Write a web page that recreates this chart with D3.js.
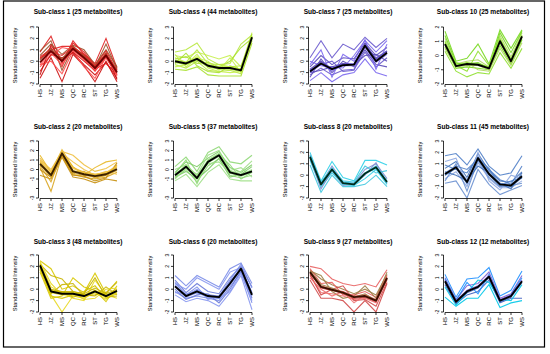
<!DOCTYPE html>
<html>
<head>
<meta charset="utf-8">
<script src="https://cdn.jsdelivr.net/npm/d3@7"></script>
<style>
  body { margin: 0; background: #fff; }
  svg { display: block; font-family: "Liberation Sans", Arial, sans-serif; }
  text { fill: #000; }
</style>
</head>
<body>
<script>
// categories on the x axis
const cats = ["HS", "JZ", "MS", "QC", "RC", "ST", "TG", "WS"];

// panel titles (numbered 1..12, laid out column by column)
const titles = [
  "Sub-class 1 (25 metabolites)", "Sub-class 2 (20 metabolites)", "Sub-class 3 (48 metabolites)",
  "Sub-class 4 (44 metabolites)", "Sub-class 5 (37 metabolites)", "Sub-class 6 (20 metabolites)",
  "Sub-class 7 (25 metabolites)", "Sub-class 8 (20 metabolites)", "Sub-class 9 (27 metabolites)",
  "Sub-class 10 (25 metabolites)", "Sub-class 11 (45 metabolites)", "Sub-class 12 (12 metabolites)"
];

// y range of each panel
const yRanges = [[-2, 3], [-3, 3], [-2, 3], [-2, 3], [-3, 3], [-2, 3],
                 [-2, 3], [-2, 3], [-2, 3], [-2, 2], [-2, 3], [-2, 3]];

// mean profile (thick line) of each sub-class
const means = [
  [-0.1, 0.9, 0.0, 1.1, 0.3, -0.6, 0.5, -1.0],
  [0.6, -0.6, 1.7, -0.2, -0.5, -0.7, -0.5, 0.05],
  [2.1, -0.2, -0.4, -0.4, -0.6, -0.2, -0.6, -0.15],
  [0.0, -0.2, 0.2, -0.4, -0.6, -0.6, -0.8, 2.1],
  [-0.6, 0.3, -0.9, 0.8, 1.5, -0.3, -0.6, -0.2],
  [0.25, -0.6, -0.2, -0.6, -0.7, 0.5, 1.8, -0.5],
  [-0.9, -0.2, -0.7, -0.35, -0.3, 1.35, 0.0, 0.75],
  [1.6, -0.8, 0.5, -0.7, -0.8, 0.15, 0.7, -0.6],
  [1.5, 0.2, -0.05, -0.3, -0.7, -0.6, -1.0, 1.0],
  [0.8, -0.75, -0.6, -0.65, -0.9, 1.0, -0.4, 1.35],
  [0.1, 0.7, -0.6, 1.5, 0.1, -0.8, -0.9, -0.1],
  [0.7, -1.1, -0.2, 0.2, 1.1, -1.0, -0.6, 0.7]
];

// individual metabolite profiles (the thin lines)
const sc1 = [
  [0.8, 2.2, -0.2, 1.8, 0.6, -0.2, 2.0, -0.6],
  [-1.5, 0.3, -1.8, 0.6, -0.4, -1.8, 0.0, -1.8],
  [0.5, 1.5, 0.6, 1.4, 1.0, -0.3, 1.0, -0.5],
  [-0.5, 0.5, 1.2, 1.0, 0.2, -0.9, 0.3, -1.2],
  [0.2, 1.2, -0.5, 1.6, 0.8, -0.4, 0.9, -0.8],
  [-0.9, 0.6, 0.3, 0.7, -0.3, -1.2, -0.1, -1.5],
  [0.9, 1.8, -0.8, 1.2, 0.5, -0.5, 1.5, -0.7],
  [-0.3, 0.0, -1.1, 0.9, -0.5, -1.5, 0.4, -1.3],
  [0.4, 1.0, 1.3, 1.3, 0.4, -0.7, -0.2, -1.1],
  [-1.2, 1.4, 0.1, 0.8, 0.0, -0.8, 0.7, -1.6],
  [0.1, 1.1, 0.2, 1.3, 0.5, -0.5, 0.7, -0.9],
  [-0.3, 0.7, -0.3, 1.0, 0.1, -0.8, 0.3, -1.2],
  [0.3, 0.8, 0.5, 1.2, 0.6, -0.4, 0.6, -0.8]
];
const sc2 = [
  [1.5, -0.3, 2.1, 0.2, -0.3, -0.5, -0.4, 0.3],
  [0.2, -2.3, 1.5, -0.5, -0.8, -1.0, -0.8, -0.3],
  [1.0, 0.0, 1.9, 1.5, 0.5, -0.2, 0.1, 0.8],
  [-0.6, -1.0, 1.3, -0.8, -1.0, -1.4, -1.0, -1.2],
  [0.8, -0.5, 1.8, 0.3, -0.6, 0.2, 0.8, 1.0],
  [0.4, -1.3, 1.6, -0.3, -0.2, -0.9, -0.6, 0.5],
  [1.2, -0.2, 1.7, 0.8, 0.0, -0.6, -0.2, -0.5],
  [0.0, -0.8, 1.4, -0.6, -0.7, -1.2, -0.9, 0.7],
  [0.7, -0.5, 1.8, -0.1, -0.4, -0.6, -0.4, 0.2],
  [0.5, -0.8, 1.6, -0.4, -0.6, -0.8, -0.6, -0.1],
  [0.9, -0.3, 1.9, 0.1, -0.3, -0.5, -0.3, 0.4]
];
const sc3 = [
  [2.5, 1.8, 0.0, 0.3, -0.3, 1.4, -0.4, 0.7],
  [1.8, -0.5, -2.0, -0.6, -0.8, -0.3, -0.9, -0.2],
  [2.2, 1.2, 0.9, -0.2, -0.5, -0.6, 0.2, -0.5],
  [1.5, -0.8, -0.6, 1.0, 0.2, -0.1, -1.1, 0.3],
  [2.3, 0.2, -0.3, -0.8, -1.0, 0.8, -0.5, -0.8],
  [2.0, -0.4, 0.4, 0.5, -0.6, -0.5, -0.3, 0.6],
  [1.7, -0.6, -0.8, -0.5, -0.2, 0.3, -0.8, -0.4],
  [2.4, 0.5, -0.5, -0.3, -0.9, -0.8, 0.0, 0.1],
  [1.9, -0.2, -0.2, -0.7, -0.4, 1.0, -0.7, -0.6],
  [2.1, -0.1, -0.3, -0.3, -0.5, -0.1, -0.5, -0.1],
  [2.0, -0.3, -0.5, -0.5, -0.7, -0.3, -0.7, -0.3],
  [2.2, 0.0, -0.2, -0.2, -0.4, 0.1, -0.4, 0.0]
];
const sc4 = [
  [0.8, 1.0, 1.6, 0.2, -0.3, -0.2, 1.5, 2.3],
  [-0.7, -0.8, -0.5, -1.2, -1.3, -1.3, -1.3, 1.6],
  [0.5, 0.3, 0.8, 0.5, 0.2, 0.5, -0.5, 2.5],
  [-0.3, -0.6, 0.0, -0.8, -0.9, -0.8, -1.1, 1.9],
  [0.2, 0.4, -0.2, -0.1, -0.5, 0.0, 1.2, 2.0],
  [-0.5, -0.3, 0.6, -0.6, -0.9, -1.0, -0.9, 2.2],
  [0.3, -0.1, 1.0, -0.2, -0.3, -0.5, -0.4, 1.8],
  [-0.2, 0.7, -0.4, -0.9, -1.0, -0.4, -0.7, 2.4],
  [0.6, -0.5, 0.3, 0.0, -0.8, 0.3, -1.0, 2.1],
  [0.1, -0.1, 0.3, -0.3, -0.5, -0.5, -0.7, 2.2],
  [-0.1, -0.3, 0.1, -0.5, -0.7, -0.7, -0.9, 2.0],
  [0.0, -0.2, 0.4, -0.4, -0.6, -0.5, -0.8, 2.1]
];
const sc5 = [
  [0.3, 1.3, -0.2, 1.8, 2.4, 0.8, 0.6, 1.5],
  [-1.2, -0.5, -1.8, -0.3, 0.5, -1.0, -1.2, -1.2],
  [-0.3, 0.8, 0.3, 1.2, 1.9, 0.2, -0.3, 0.5],
  [-0.9, 0.0, -1.3, 0.4, 1.1, -0.6, -0.9, -0.6],
  [0.0, 0.5, -0.6, 1.5, 2.0, -0.1, 0.2, -0.8],
  [-0.8, -0.2, -1.0, 0.0, 1.2, -0.8, -0.5, 0.3],
  [-0.4, 1.0, -1.5, 1.0, 1.6, 0.5, -1.0, -0.3],
  [-1.0, 0.2, -0.5, 0.6, 0.8, -0.4, -0.2, 0.9],
  [-0.5, 0.4, -0.8, 0.9, 1.6, -0.2, -0.5, -0.1],
  [-0.7, 0.2, -1.0, 0.7, 1.4, -0.4, -0.7, -0.3],
  [-0.6, 0.5, -0.7, 1.0, 1.7, -0.1, -0.6, 0.0]
];
const sc6 = [
  [1.2, 0.3, 1.2, 0.7, 0.2, 1.8, 2.3, 0.5],
  [-0.5, -1.1, -0.8, -1.0, -1.5, -0.3, 1.2, -1.8],
  [0.8, -0.3, 0.5, -0.2, -0.4, 1.0, 2.0, 0.2],
  [-0.2, -0.8, -0.6, -0.8, -1.0, 0.2, 1.5, -1.2],
  [0.5, 0.0, 1.0, 0.5, 0.0, 1.5, 1.9, -0.3],
  [0.0, -0.9, -0.5, -0.4, -1.2, 0.0, 1.6, -0.8],
  [0.6, -0.5, 0.2, -0.9, -0.6, 0.8, 2.2, 0.1],
  [-0.3, -0.4, -0.3, -0.6, -0.8, -0.2, 1.4, -1.0],
  [0.3, -0.5, -0.1, -0.5, -0.6, 0.6, 1.9, -0.4],
  [0.2, -0.7, -0.3, -0.7, -0.8, 0.4, 1.7, -0.6],
  [0.4, -0.6, 0.0, -0.6, -0.7, 0.7, 1.8, -0.3]
];
const sc7 = [
  [0.3, 1.8, 0.3, 1.5, 1.0, 2.1, 1.2, 2.0],
  [-1.7, -1.0, -1.8, -1.2, -1.0, 0.2, -1.0, -1.3],
  [-0.5, 0.5, -0.3, 0.3, 0.2, 1.6, 0.5, 1.2],
  [-1.2, -0.6, -1.2, -0.8, -0.7, 0.8, -0.5, 0.3],
  [0.0, -0.4, -0.5, -0.6, 0.5, 1.8, 0.8, 1.8],
  [-1.4, 0.2, -1.0, 0.0, -0.5, 1.0, -0.3, -0.5],
  [-0.8, -0.3, 0.0, -0.9, -0.8, 1.4, 0.3, 0.9],
  [-0.3, 1.0, -1.4, 0.6, 0.0, 1.9, -0.7, 1.5],
  [-1.0, -0.8, -0.5, -0.2, -0.3, 0.5, 0.6, 0.0],
  [-0.8, -0.1, -0.6, -0.3, -0.2, 1.4, 0.1, 0.8],
  [-1.0, -0.3, -0.8, -0.4, -0.4, 1.2, -0.1, 0.6],
  [-0.7, 0.0, -0.7, -0.2, -0.3, 1.5, 0.2, 0.9]
];
const sc8 = [
  [2.0, -0.5, 1.2, -0.2, -0.5, 1.3, 1.3, 0.9],
  [0.9, -1.5, 0.0, -1.0, -1.0, -0.8, 0.0, -1.0],
  [1.8, -0.7, 0.8, -0.6, -0.7, 0.5, 1.0, -0.3],
  [1.3, -1.0, 0.2, -0.8, -0.9, -0.3, 0.5, -0.8],
  [1.7, -0.6, 0.6, -0.5, -0.6, 0.8, 0.2, 0.4],
  [1.5, -1.2, 0.4, -0.9, -0.8, 0.0, 1.1, -0.7],
  [1.7, -0.7, 0.6, -0.6, -0.7, 0.2, 0.8, -0.5],
  [1.5, -0.9, 0.4, -0.8, -0.9, 0.1, 0.6, -0.7]
];
const sc9 = [
  [2.0, 1.8, 0.9, 0.5, 0.3, 0.5, 0.2, 1.7],
  [0.8, -0.8, -0.8, -1.0, -2.0, -1.0, -2.0, 0.5],
  [1.7, 0.9, 0.4, 0.0, -0.4, 0.0, -0.5, 1.3],
  [1.2, -0.3, -0.4, -0.6, -0.9, -0.8, -1.2, 0.8],
  [1.8, 0.5, 0.6, -0.5, -0.5, -0.2, -0.7, 1.2],
  [1.3, -0.5, 0.0, 0.3, -1.0, -0.9, -1.5, 0.6],
  [1.6, 1.2, -0.2, -0.8, -0.6, 0.3, -0.8, 1.5],
  [1.0, 0.0, -0.6, -0.2, -1.2, -0.5, -1.1, 0.9],
  [1.5, 0.3, 0.0, -0.2, -0.6, -0.5, -0.9, 1.1],
  [1.4, 0.1, -0.1, -0.4, -0.8, -0.7, -1.1, 0.9],
  [1.6, 0.4, 0.1, -0.3, -0.7, -0.4, -1.0, 1.0]
];
const sc10 = [
  [1.7, -0.4, -0.2, 0.8, -0.6, 1.8, 0.5, 1.8],
  [0.3, -1.1, -1.5, -1.2, -1.3, 0.2, -0.9, 0.5],
  [1.2, -0.6, -0.4, -0.3, -0.8, 1.4, -0.1, 1.6],
  [0.6, -0.9, -0.8, -0.9, -1.0, 0.7, -0.6, 1.1],
  [1.0, -0.7, -1.1, 0.3, -0.7, 1.2, -0.3, 1.4],
  [0.5, -0.8, -0.5, -1.0, -1.1, 0.5, -0.7, 0.9],
  [1.4, -0.5, -0.7, -0.6, -0.9, 1.6, 0.2, 1.7],
  [0.9, -0.7, -0.5, -0.6, -0.8, 1.1, -0.3, 1.4],
  [0.7, -0.8, -0.7, -0.7, -1.0, 0.9, -0.5, 1.3],
  [0.8, -0.6, -0.6, -0.5, -0.9, 1.0, -0.4, 1.2]
];
const sc11 = [
  [1.7, 1.9, 0.9, 2.3, 0.8, 0.0, 0.2, 1.7],
  [-0.7, -0.5, -2.0, 0.5, -0.8, -1.7, -1.3, -0.9],
  [0.6, 1.2, -0.2, 1.9, 0.4, -0.5, -0.6, 0.3],
  [-0.3, 0.3, -1.0, 1.1, -0.3, -1.1, -1.1, -0.5],
  [0.9, 0.5, 0.2, 1.6, 0.5, -0.4, -0.8, 0.8],
  [-0.5, 1.0, -1.4, 1.3, -0.2, -1.0, -0.9, -0.7],
  [0.3, 0.0, -0.5, 0.8, 0.2, -0.7, -1.2, 0.2],
  [1.2, 1.5, -0.8, 2.0, -0.5, -1.3, 0.0, -0.3],
  [0.0, 0.8, 0.5, 1.4, 0.6, -0.9, -0.5, -0.2],
  [0.2, 0.8, -0.5, 1.6, 0.2, -0.7, -0.8, 0.0],
  [0.0, 0.6, -0.7, 1.4, 0.0, -0.9, -1.0, -0.2],
  [0.1, 0.7, -0.4, 1.5, 0.1, -0.8, -0.9, -0.1]
];
const sc12 = [
  [1.3, -0.7, 0.9, 1.0, 1.9, -0.6, -0.1, 1.6],
  [-0.7, -1.5, -0.8, -0.8, 0.4, -1.6, -1.2, -1.0],
  [1.0, -0.9, 0.3, 0.5, 1.5, -0.8, -0.4, 1.2],
  [0.4, -1.3, -0.5, -0.2, 0.8, -1.2, -0.8, -0.8],
  [0.9, -1.0, 0.6, -0.4, 1.3, -1.1, -0.5, 1.0],
  [0.2, -1.4, -0.3, 0.8, 0.6, -0.9, -1.0, 0.4],
  [0.8, -1.0, -0.1, 0.3, 1.2, -0.9, -0.5, 0.8],
  [0.6, -1.2, -0.3, 0.1, 1.0, -1.1, -0.7, 0.6]
];
const members = [sc1, sc2, sc3, sc4, sc5, sc6, sc7, sc8, sc9, sc10, sc11, sc12];

// thin line colours and mean line colour per panel
const lineColors = [
  ["#e02020", "#cc1010", "#a0522d", "#ff5050"],
  ["#e8b828", "#d9a520", "#f0c040", "#c89010"],
  ["#d8c800", "#e8d820", "#c8b400"],
  ["#b8e840", "#a8e030", "#c8f050"],
  ["#90d878", "#a0e088", "#80cc68"],
  ["#7b8de8", "#8898f0", "#6a7ad8"],
  ["#6a5acd", "#7b68ee", "#5a4ab8"],
  ["#30d0e8", "#40c8e0", "#8090d0"],
  ["#e86060", "#d04848", "#a08048", "#f07070"],
  ["#78d820", "#90e030", "#b0d860"],
  ["#5080c8", "#6a90d0", "#4070b8", "#8fa8e0"],
  ["#1e90ff", "#00c8e8", "#8060d0", "#4060c0"]
];
const meanColors = ["#700000", "#3a2000", "#000", "#000", "#000", "#000",
                    "#000", "#002a1a", "#3a1000", "#000", "#000", "#000"];

const W = 550, H = 354;
const svg = d3.select("body").append("svg").attr("width", W).attr("height", H);

// frame round the whole figure
svg.append("rect")
  .attr("x", 3.5).attr("y", 1).attr("width", 541).attr("height", 346)
  .attr("fill", "none").attr("stroke", "#000").attr("stroke-width", 1.2);

titles.forEach((t, k) => {
  const col = Math.floor(k / 3), row = k % 3;
  const ox = col * 135;
  const top = 27 + row * 114, bottom = top + 57;
  const axX = ox + 38.5;

  const x = d3.scalePoint().domain(cats).range([ox + 40, ox + 117]);
  const y = d3.scaleLinear().domain(yRanges[k]).range([bottom, top]);
  const g = svg.append("g");

  // title
  g.append("text")
    .attr("x", ox + 78).attr("y", 14.3 + row * 115)
    .attr("text-anchor", "middle")
    .attr("font-size", 6.6).attr("font-weight", "bold")
    .text(t);

  // y label
  g.append("text")
    .attr("transform", "translate(" + (ox + 17) + "," + ((top + bottom) / 2) + ") rotate(-90)")
    .attr("text-anchor", "middle")
    .attr("font-size", 5.6)
    .text("Standardised Intensity");

  // thin lines
  const line = d3.line().x((d, i) => x(cats[i])).y(d => y(d));
  g.selectAll("path.m")
    .data(members[k])
    .enter().append("path")
    .attr("class", "m")
    .attr("d", line)
    .attr("fill", "none")
    .attr("stroke", (d, i) => lineColors[k][i % lineColors[k].length])
    .attr("stroke-width", 1.1)
    .attr("opacity", 0.9);

  // mean line
  g.append("path")
    .attr("d", line(means[k]))
    .attr("fill", "none")
    .attr("stroke", meanColors[k])
    .attr("stroke-width", 1.9)
    .attr("stroke-linejoin", "round");

  // y axis
  const yt = d3.range(yRanges[k][0], yRanges[k][1] + 1);
  g.append("line")
    .attr("x1", axX).attr("x2", axX)
    .attr("y1", y(yt[0])).attr("y2", y(yt[yt.length - 1]))
    .attr("stroke", "#000").attr("stroke-width", 0.8);
  yt.forEach(v => {
    g.append("line")
      .attr("x1", axX - 2.5).attr("x2", axX)
      .attr("y1", y(v)).attr("y2", y(v))
      .attr("stroke", "#000").attr("stroke-width", 0.8);
    if (v === -2 && yRanges[k][0] === -3) return;
    g.append("text")
      .attr("transform", "translate(" + (ox + 34) + "," + y(v) + ") rotate(-90)")
      .attr("text-anchor", "middle")
      .attr("font-size", 5.2)
      .text(v);
  });

  // x axis
  g.append("line")
    .attr("x1", x(cats[0])).attr("x2", x(cats[cats.length - 1]))
    .attr("y1", bottom + 0.5).attr("y2", bottom + 0.5)
    .attr("stroke", "#000").attr("stroke-width", 0.8);
  cats.forEach(c => {
    g.append("line")
      .attr("x1", x(c)).attr("x2", x(c))
      .attr("y1", bottom + 0.5).attr("y2", bottom + 3)
      .attr("stroke", "#000").attr("stroke-width", 0.8);
    g.append("text")
      .attr("transform", "translate(" + (x(c) + 2) + "," + (bottom + 5) + ") rotate(-90)")
      .attr("text-anchor", "end")
      .attr("font-size", 6)
      .text(c);
  });
});
</script>
</body>
</html>
